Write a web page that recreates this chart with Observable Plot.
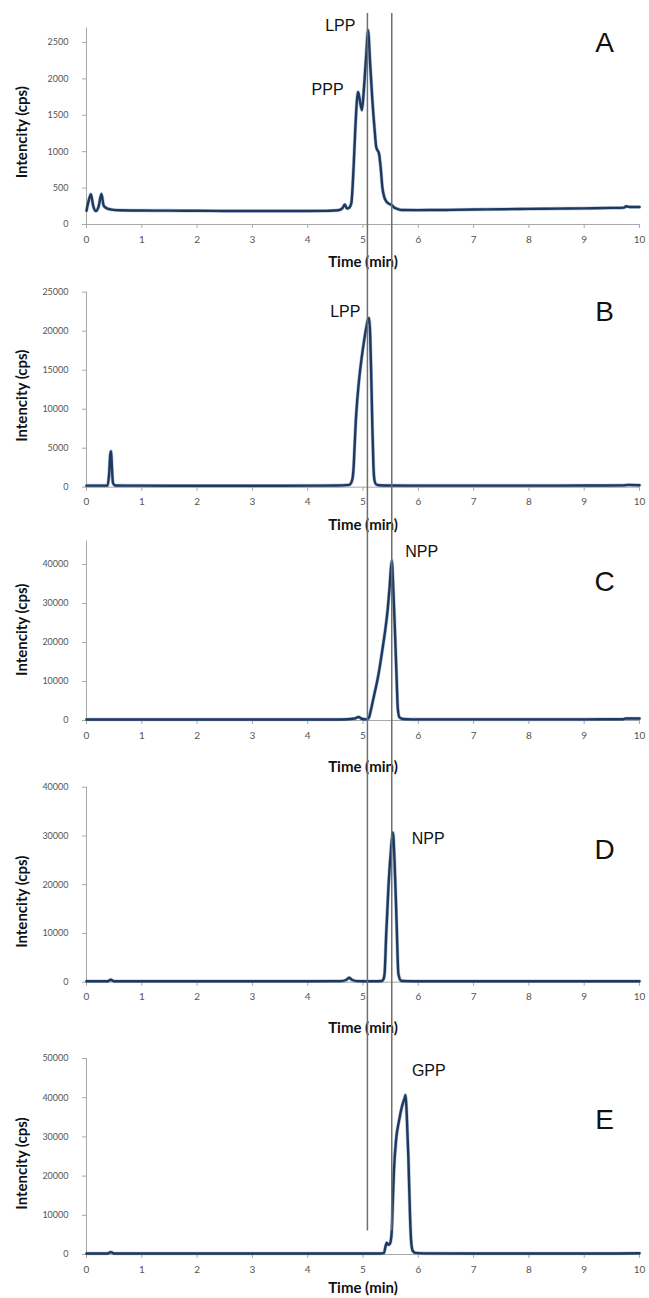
<!DOCTYPE html>
<html><head><meta charset="utf-8">
<script src="https://cdn.jsdelivr.net/npm/d3@7"></script>
<script src="https://cdn.jsdelivr.net/npm/@observablehq/plot@0.6"></script>
<style>
html,body{margin:0;padding:0;background:#fff;}
#chart svg{display:block;}
</style></head><body><div id="chart"></div>
<script>
// ---------- data ----------
const panelLetters = ["A", "B", "C", "D", "E"];
const xTicks = [0, 1, 2, 3, 4, 5, 6, 7, 8, 9, 10];
const yTicksA = [0, 500, 1000, 1500, 2000, 2500];
const yTicksB = [0, 5000, 10000, 15000, 20000, 25000];
const yTicksC = [0, 10000, 20000, 30000, 40000];
const yTicksD = [0, 10000, 20000, 30000, 40000];
const yTicksE = [0, 10000, 20000, 30000, 40000, 50000];
const yMax = [2700, 25000, 46000, 40000, 50000];
const markerTimes = [5.08, 5.52];      // the two vertical reference lines (min)
const markerEndE = 6000;               // where they stop in panel E (cps)

const timeA = [0, 0.04, 0.08, 0.12, 0.17, 0.22, 0.27, 0.31, 0.36, 0.45, 0.6, 1.0, 1.5, 2.0, 2.5, 3.0, 3.5, 4.0, 4.4, 4.55, 4.63, 4.67, 4.71, 4.75, 4.79, 4.83, 4.86, 4.89, 4.91, 4.94, 4.98, 5.02, 5.06, 5.09, 5.13, 5.17, 5.21, 5.24, 5.29, 5.32, 5.35, 5.38, 5.41, 5.46, 5.52, 5.57, 5.62, 5.7, 6.0, 6.5, 7.0, 7.5, 8.0, 8.5, 9.0, 9.5, 9.72, 9.76, 9.82, 10];
const intA  = [190, 330, 415, 260, 185, 250, 420, 260, 225, 205, 195, 192, 190, 188, 186, 185, 185, 186, 188, 195, 225, 275, 220, 230, 300, 787, 1300, 1700, 1820, 1720, 1570, 1900, 2350, 2670, 2200, 1700, 1300, 1060, 970, 780, 510, 390, 330, 290, 265, 230, 215, 200, 198, 200, 205, 210, 215, 218, 222, 228, 232, 250, 240, 240];

const timeB = [0, 0.3, 0.38, 0.41, 0.43, 0.445, 0.46, 0.48, 0.52, 0.7, 1, 2, 3, 4, 4.5, 4.75, 4.8, 4.83, 4.85, 4.87, 4.9, 4.94, 4.98, 5.02, 5.06, 5.09, 5.11, 5.13, 5.15, 5.17, 5.19, 5.21, 5.24, 5.3, 5.5, 6, 7, 8, 9, 9.7, 9.8, 10];
const intB  = [200, 200, 220, 1800, 4200, 4600, 2500, 500, 220, 200, 200, 190, 190, 200, 210, 300, 800, 2500, 5500, 8500, 11500, 14500, 16800, 18800, 20500, 21500, 21700, 19500, 14000, 7500, 2500, 800, 350, 250, 220, 200, 200, 200, 210, 230, 300, 250];

const timeC = [0, 1, 2, 3, 4, 4.6, 4.85, 4.92, 4.98, 5.04, 5.08, 5.11, 5.14, 5.18, 5.22, 5.26, 5.3, 5.33, 5.37, 5.41, 5.45, 5.48, 5.52, 5.55, 5.58, 5.61, 5.63, 5.66, 5.72, 5.9, 6.5, 7, 8, 9, 9.7, 9.75, 10];
const intC  = [250, 250, 250, 250, 250, 260, 500, 900, 450, 300, 400, 850, 2500, 5100, 7700, 10300, 13500, 16200, 20000, 24000, 29000, 34000, 41000, 33000, 22000, 10000, 3000, 800, 400, 300, 280, 280, 280, 300, 320, 500, 500];

const timeD = [0, 0.38, 0.44, 0.5, 1, 2, 3, 4, 4.6, 4.7, 4.75, 4.8, 4.9, 5.0, 5.2, 5.34, 5.37, 5.39, 5.42, 5.46, 5.5, 5.54, 5.57, 5.61, 5.64, 5.69, 5.8, 6, 7, 8, 9, 10];
const intD  = [200, 200, 500, 200, 200, 200, 200, 200, 220, 500, 900, 500, 220, 200, 200, 250, 600, 1700, 9900, 19500, 26300, 30700, 25000, 11300, 1700, 300, 220, 200, 200, 200, 200, 200];

const timeE = [0, 0.38, 0.44, 0.5, 1, 2, 3, 4, 5, 5.3, 5.38, 5.41, 5.43, 5.46, 5.48, 5.5, 5.52, 5.54, 5.56, 5.6, 5.65, 5.7, 5.75, 5.77, 5.79, 5.82, 5.85, 5.87, 5.9, 5.95, 6.1, 7, 8, 9, 10];
const intE  = [250, 250, 600, 250, 250, 250, 250, 250, 250, 260, 400, 2200, 3000, 2500, 2600, 3300, 6000, 14000, 21500, 29500, 34000, 37500, 39800, 40700, 36000, 25000, 10000, 3500, 900, 400, 280, 250, 250, 250, 300];

// peak annotations (text, time, intensity)
const peakText = [["PPP", "LPP"], ["LPP"], ["NPP"], ["NPP"], ["GPP"]];
const peakX    = [[4.36, 4.59], [4.68], [6.06], [6.18], [6.19]];
const peakY    = [[1850, 2733], [22436], [43150], [29415], [46940]];
const letterX  = 9.37;
const letterY  = [2486, 22436, 35460, 27040, 34180];

// ---------- layout ----------
const layout = [
  {h: 270, mt: 27.4, mb: 46,   xl: 38,   yl: 6,  rTop: -14.4, rBot: -46},
  {h: 262, mt: 21.7, mb: 45.3, xl: 38.3, yl: 6,  rTop: -21.7, rBot: -45.3},
  {h: 243, mt: 8.6,  mb: 55,   xl: 47,   yl: -1, rTop: -8.6,  rBot: -55},
  {h: 265, mt: 11.7, mb: 58.3, xl: 46.3, yl: 17, rTop: -11.7, rBot: -58.3},
  {h: 258, mt: 18,   mb: 44,   xl: 34,   yl: 7,  rTop: -18,   rBot: 0}
];
const times = [timeA, timeB, timeC, timeD, timeE];
const ints = [intA, intB, intC, intD, intE];
const yTicks = [yTicksA, yTicksB, yTicksC, yTicksD, yTicksE];

const axisGray = "#a8a8a8";
const labelGray = "#555";
const lineColor = "#1d3960";
const font = "Lato, 'Open Sans', sans-serif";
const arial = "'Liberation Sans', Arial, sans-serif";

const root = document.getElementById("chart");
panelLetters.forEach((letter, k) => {
  const L = layout[k];
  const series = times[k].map((t, i) => ({t, v: ints[k][i]}));
  const peaks = peakText[k].map((s, i) => ({s, x: peakX[k][i], y: peakY[k][i]}));
  const last = k === 4;
  const rules = last
    ? Plot.ruleX(markerTimes, {x: d => d, y1: yMax[k], y2: markerEndE, stroke: "#6e6e6e", strokeWidth: 1.5, insetTop: L.rTop})
    : Plot.ruleX(markerTimes, {stroke: "#6e6e6e", strokeWidth: 1.5, insetTop: L.rTop, insetBottom: L.rBot});
  const svg = Plot.plot({
    width: 649, height: L.h,
    marginLeft: 86, marginRight: 10, marginTop: L.mt, marginBottom: L.mb,
    x: {domain: [0, 10]},
    y: {domain: [0, yMax[k]]},
    style: {fontFamily: font, background: "white", overflow: "visible"},
    marks: [
      Plot.axisY({ticks: yTicks[k], tickSize: 4, tickPadding: 14, fontSize: 9, fill: labelGray, stroke: axisGray, tickFormat: d => String(d), label: null}),
      Plot.axisX({ticks: xTicks, tickSize: 4, tickPadding: 7, fontSize: 10, fill: labelGray, stroke: axisGray, tickFormat: d => String(d), label: null}),
      Plot.ruleX([0], {stroke: axisGray, strokeWidth: 1}),
      Plot.ruleY([0], {stroke: axisGray, strokeWidth: 1}),
      Plot.line(series, {x: "t", y: "v", stroke: "#5f7fa8", strokeWidth: 3.6, strokeOpacity: 0.45, curve: "monotone-x"}),
      Plot.line(series, {x: "t", y: "v", stroke: lineColor, strokeWidth: 2.4, curve: "monotone-x"}),
      Plot.text(["Time (min)"], {frameAnchor: "bottom", dy: L.xl, lineAnchor: "middle", textAnchor: "middle", fontWeight: "bold", fontSize: 15, fill: "#111"}),
      Plot.text(["Intencity (cps)"], {frameAnchor: "left", dx: -64, dy: L.yl, rotate: -90, lineAnchor: "middle", textAnchor: "middle", fontWeight: "bold", fontSize: 15, fill: "#111"}),
      Plot.text(peaks, {x: "x", y: "y", text: "s", fontFamily: arial, fontSize: 16, fill: "#111", lineAnchor: "middle", textAnchor: "middle"}),
      Plot.text([letter], {x: letterX, y: letterY[k], fontFamily: arial, fontSize: 28, fill: "#111", lineAnchor: "middle", textAnchor: "middle"}),
      rules
    ]
  });
  root.appendChild(svg);
});
</script>
</body></html>
